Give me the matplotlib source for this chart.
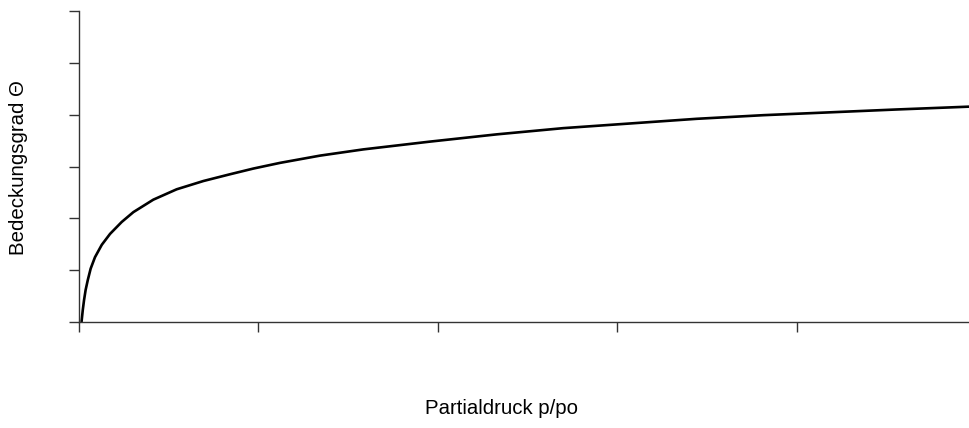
import numpy as np
import matplotlib
matplotlib.use("Agg")
import matplotlib.pyplot as plt

# curve (x in x-tick units, y in y-tick units)
partialdruck = [0.014, 0.021, 0.028, 0.037, 0.049, 0.065, 0.089, 0.127,
                0.173, 0.238, 0.303, 0.414, 0.544, 0.693, 0.841, 0.971,
                1.120, 1.343, 1.584, 1.955, 2.327, 2.698, 3.070, 3.441,
                3.812, 4.184, 4.555, 4.852, 4.960]
bedeckung = [0.0, 0.23, 0.42, 0.62, 0.81, 1.03, 1.25, 1.49,
             1.70, 1.93, 2.12, 2.36, 2.56, 2.72, 2.85, 2.96,
             3.07, 3.21, 3.33, 3.48, 3.62, 3.74, 3.83, 3.92,
             3.99, 4.045, 4.10, 4.14, 4.155]
x_ticks = [0, 1, 2, 3, 4]
y_ticks = [0, 1, 2, 3, 4, 5, 6]

plt.rcParams['font.family'] = ['Liberation Sans', 'DejaVu Sans']

fig = plt.figure(figsize=(9.7, 4.28), dpi=100)
ax = fig.add_axes([79 / 970, 1 - 322 / 428, 1 - 79 / 970, 311 / 428])

ax.plot(partialdruck, bedeckung, color='black', lw=1.9,
        solid_joinstyle='round', solid_capstyle='butt')

ax.set_xlim(0, 4.964)
ax.set_ylim(0, 6)
ax.set_xticks(x_ticks)
ax.set_yticks(y_ticks)
ax.set_xticklabels([])
ax.set_yticklabels([])
ax.tick_params(direction='out', length=7.5, width=1, color='#333333')

for side in ['top', 'right']:
    ax.spines[side].set_visible(False)
for side in ['left', 'bottom']:
    ax.spines[side].set_color('#333333')
    ax.spines[side].set_linewidth(1)

ax.set_xlabel('Partialdruck p/po', fontsize=14.7, va='center')
ax.xaxis.set_label_coords((502 - 79) / 891, (322 - 409) / 311)
ax.set_ylabel('Bedeckungsgrad Θ', fontsize=14.7, va='center')
ax.yaxis.set_label_coords((19 - 79) / 891, (322 - 167.5) / 311)

fig.savefig('out.png', dpi=100)
